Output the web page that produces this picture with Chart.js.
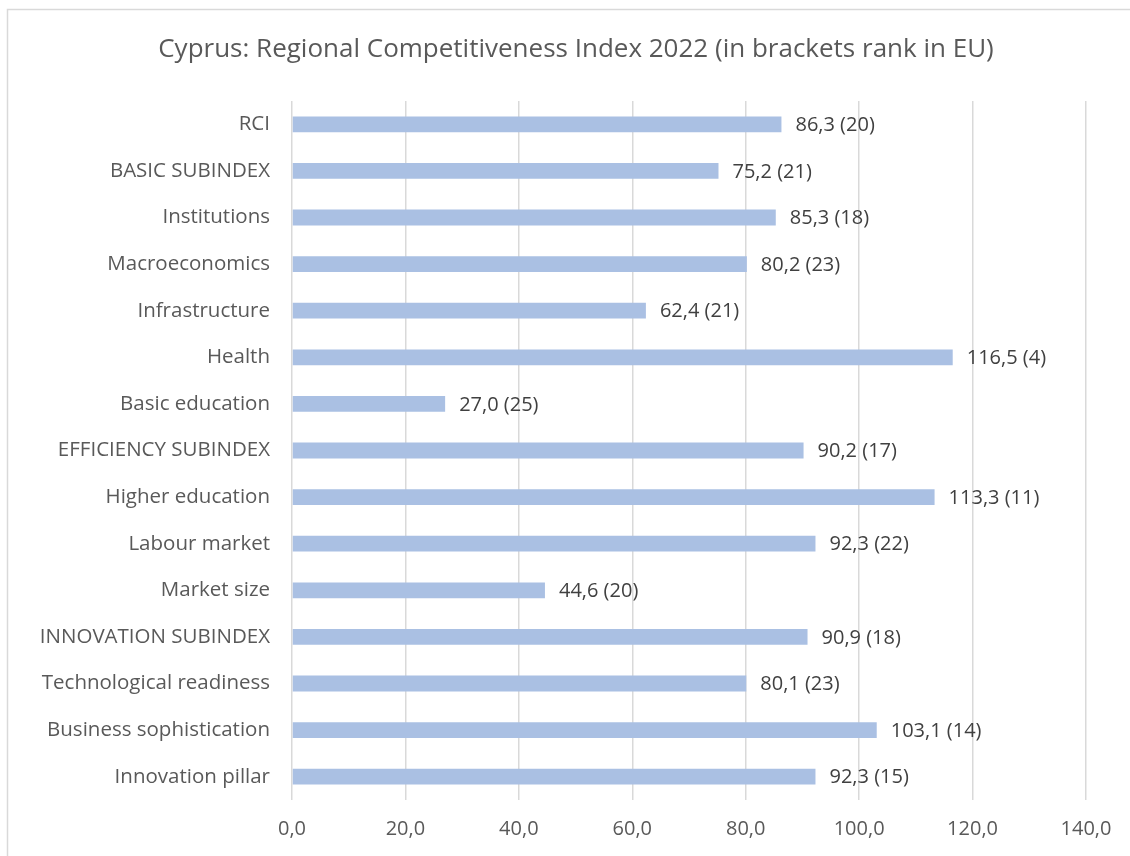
<!DOCTYPE html>
<html>
<head>
<meta charset="utf-8">
<script src="https://cdn.jsdelivr.net/npm/chart.js@4.4.0/dist/chart.umd.min.js"></script>
<style>
  html, body { margin: 0; padding: 0; background: #fff; }
  #wrap { width: 1130px; height: 856px; }
</style>
</head>
<body>
<div id="wrap"><canvas id="rci_chart" width="1130" height="856"></canvas></div>
<script>
// chart data
const chart_title = "Cyprus: Regional Competitiveness Index 2022 (in brackets rank in EU)";
const categories = [
	"RCI",
	"BASIC SUBINDEX",
	"Institutions",
	"Macroeconomics",
	"Infrastructure",
	"Health",
	"Basic education",
	"EFFICIENCY SUBINDEX",
	"Higher education",
	"Labour market",
	"Market size",
	"INNOVATION SUBINDEX",
	"Technological readiness",
	"Business sophistication",
	"Innovation pillar"
];
const index_values = [86.3, 75.2, 85.3, 80.2, 62.4, 116.5, 27.0, 90.2, 113.3, 92.3, 44.6, 90.9, 80.1, 103.1, 92.3];
const eu_ranks = [20, 21, 18, 23, 21, 4, 25, 17, 11, 22, 20, 18, 23, 14, 15];
const x_ticks = [0, 20, 40, 60, 80, 100, 120, 140];

const FONT = "'Open Sans', sans-serif";
const ctx = document.getElementById("rci_chart").getContext("2d");

function fmt(v) {
	return v.toFixed(1).replace(".", ",");
}

// value (rank) labels after each bar
const barLabels = {
	id: "barLabels",
	afterDatasetsDraw(chart) {
		const c = chart.ctx;
		const meta = chart.getDatasetMeta(0);
		c.save();
		c.font = "20px " + FONT;
		c.fillStyle = "#404040";
		c.textBaseline = "middle";
		c.textAlign = "left";
		meta.data.forEach((bar, i) => {
			c.fillText(fmt(index_values[i]) + " (" + eu_ranks[i] + ")", bar.x + 14, bar.y + 1);
		});
		c.restore();
	}
};

// white background, thin frame and the title (the excel chart box is a bit wider than the picture)
const frame = {
	id: "frame",
	beforeDraw(chart) {
		const c = chart.ctx;
		c.save();
		c.fillStyle = "#fff";
		c.fillRect(0, 0, chart.width, chart.height);
		c.strokeStyle = "#d9d9d9";
		c.lineWidth = 1.5;
		c.strokeRect(7.5, 9.5, chart.width + 20, chart.height + 10);
		c.font = "26px " + FONT;
		c.fillStyle = "#595959";
		c.textAlign = "center";
		c.textBaseline = "middle";
		c.fillText(chart_title, 576, 50);
		c.restore();
	}
};

let my_chart = new Chart(ctx, {
	type: "bar",
	data: {
		labels: categories,
		datasets: [{
			data: index_values,
			backgroundColor: "#aac0e3",
			barPercentage: 0.68,
			categoryPercentage: 0.5
		}]
	},
	options: {
		indexAxis: "y",
		responsive: false,
		animation: false,
		layout: { padding: { left: 8, right: 44, top: 101, bottom: 0 } },
		plugins: {
			legend: { display: false },
			tooltip: { enabled: false },
			title: { display: false }
		},
		scales: {
			x: {
				min: 0,
				max: 140,
				afterBuildTicks(scale) {
					scale.ticks = x_ticks.map(v => ({ value: v }));
				},
				afterFit(scale) {
					scale.height = 56;
				},
				ticks: {
					color: "#595959",
					font: { family: FONT, size: 20 },
					padding: 17,
					callback: v => fmt(v)
				},
				grid: { color: "#d9d9d9", lineWidth: 1.5, drawTicks: false },
				border: { display: false }
			},
			y: {
				afterFit(scale) {
					scale.width = 284;
				},
				ticks: {
					color: "#595959",
					font: { family: FONT, size: 20.5 },
					padding: 22,
					autoSkip: false
				},
				grid: { display: false, drawTicks: false },
				border: { display: false }
			}
		}
	},
	plugins: [frame, barLabels]
});
</script>
</body>
</html>
